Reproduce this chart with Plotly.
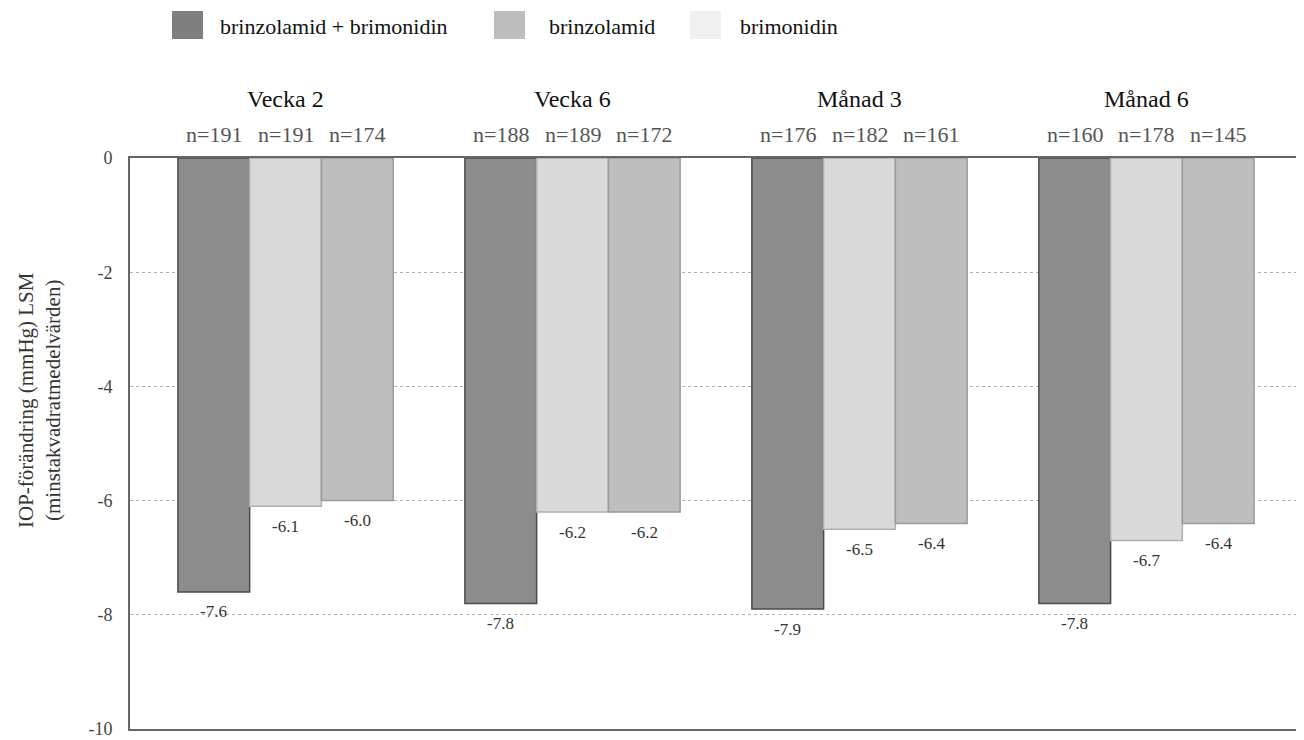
import plotly.graph_objects as go

groups = ["Vecka 2", "Vecka 6", "Månad 3", "Månad 6"]
series_names = ["brinzolamid + brimonidin", "brimonidin", "brinzolamid"]
combo_vals = [-7.6, -7.8, -7.9, -7.8]
brimo_vals = [-6.1, -6.2, -6.5, -6.7]
brinz_vals = [-6.0, -6.2, -6.4, -6.4]
combo_n = [191, 188, 176, 160]
brimo_n = [191, 189, 182, 178]
brinz_n = [174, 172, 161, 145]
y_ticks = [0, -2, -4, -6, -8, -10]
legend_labels = ["brinzolamid + brimonidin", "brinzolamid", "brimonidin"]

FONT = "Liberation Serif"
bar_colors = ["#8c8c8c", "#d9d9d9", "#bebebe"]
line_colors = ["#4a4a4a", "#b0b0b0", "#9a9a9a"]
legend_colors = ["#7f7f7f", "#bdbdbd", "#f0f0f0"]

# page geometry (figure sits 8px inside the page because of body margin)
PAGE_OFF = 8
PLOT_L, PLOT_R, PLOT_T, PLOT_B = 130, 1298, 158, 729
FIG_W, FIG_H = 1296, 732


def px_x(p):
    return (p - PLOT_L) / (PLOT_R - PLOT_L)


def px_y(p):
    return (PLOT_B - p) / (PLOT_B - PLOT_T)


W = 0.25
offsets = [-0.375, -0.125, 0.125]
xs = list(range(len(groups)))
all_vals = [combo_vals, brimo_vals, brinz_vals]
all_n = [combo_n, brimo_n, brinz_n]

fig = go.Figure()
for i, (name, vals) in enumerate(zip(series_names, all_vals)):
    fig.add_trace(go.Bar(
        x=xs, y=vals, name=name, showlegend=False,
        width=W, offset=offsets[i],
        marker=dict(color=bar_colors[i], line=dict(color=line_colors[i], width=1.5)),
    ))

annotations = []
shapes = []
for i, (vals, ns) in enumerate(zip(all_vals, all_n)):
    for g, (v, n) in enumerate(zip(vals, ns)):
        cx = xs[g] + offsets[i] + W / 2
        annotations.append(dict(x=cx, y=v, xref="x", yref="y", text=f"{v:.1f}",
                                showarrow=False, yshift=-20, xanchor="center", yanchor="middle",
                                font=dict(family=FONT, size=17, color="#333333")))
        annotations.append(dict(x=cx, y=px_y(134), xref="x", yref="paper", text=f"n={n}",
                                showarrow=False, xanchor="center", yanchor="middle",
                                font=dict(family=FONT, size=22, color="#555555")))
for g, name in enumerate(groups):
    annotations.append(dict(x=xs[g], y=px_y(99), xref="x", yref="paper", text=name,
                            showarrow=False, xanchor="center", yanchor="middle",
                            font=dict(family=FONT, size=24, color="#111111")))

annotations.append(dict(x=px_x(39), y=px_y(400), xref="paper", yref="paper",
                        text="IOP-förändring (mmHg) LSM<br>(minstakvadratmedelvärden)",
                        textangle=-90, showarrow=False, xanchor="center", yanchor="middle",
                        font=dict(family=FONT, size=21, color="#333333")))

# legend drawn as swatches + labels (as in the reference)
legend_sq_x = [172, 494, 690]
legend_txt_x = [218, 547, 738]
for lab, col, sx, tx in zip(legend_labels, legend_colors, legend_sq_x, legend_txt_x):
    shapes.append(dict(type="rect", xref="paper", yref="paper",
                       x0=px_x(sx), x1=px_x(sx + 31), y0=px_y(39), y1=px_y(11),
                       fillcolor=col, line=dict(width=0)))
    annotations.append(dict(x=px_x(tx), y=px_y(26), xref="paper", yref="paper", text=lab,
                            xanchor="left", yanchor="middle", showarrow=False,
                            font=dict(family=FONT, size=22, color="#111111")))

fig.update_layout(
    width=FIG_W, height=FIG_H,
    margin=dict(l=PLOT_L - PAGE_OFF, r=FIG_W + PAGE_OFF - PLOT_R,
                t=PLOT_T - PAGE_OFF, b=FIG_H + PAGE_OFF - PLOT_B, autoexpand=False),
    paper_bgcolor="white", plot_bgcolor="white",
    font=dict(family=FONT, color="#333333"),
    barmode="overlay",
    showlegend=False,
    xaxis=dict(range=[-0.542, 3.528], showticklabels=False, ticks="", showgrid=False,
               zeroline=False, showline=True, linecolor="#666666", linewidth=2, mirror=True,
               automargin=False),
    yaxis=dict(range=[-10, 0], tickvals=y_ticks, ticktext=[str(t) for t in y_ticks],
               tickfont=dict(family=FONT, size=18, color="#444444"),
               showgrid=True, gridcolor="#b0b0b0", griddash="dot", gridwidth=1,
               zeroline=False, showline=True, linecolor="#666666", linewidth=2, mirror=True,
               ticks="", ticklabelstandoff=12, ticklabeloverflow="allow", automargin=False),
    annotations=annotations,
    shapes=shapes,
)

fig.write_html("out.html")
